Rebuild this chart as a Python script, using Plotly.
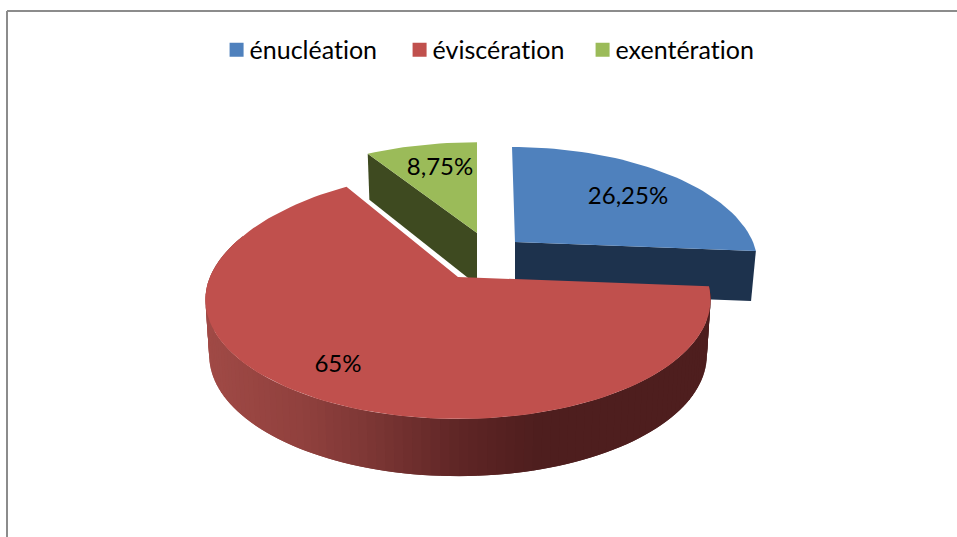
import math
import plotly.graph_objects as go

# ---- data ----
categories = ["énucléation", "éviscération", "exentération"]
values = [26.25, 65, 8.75]
value_labels = ["26,25%", "65%", "8,75%"]
top_colors = ["#4f81bd", "#c0504d", "#9bbb59"]
cut_colors = ["#1d324d", "#4f1e1e", "#3e4a20"]

# ---- page geometry ----
W, H = 957, 537
geom = {
    0: dict(cx=515, cy=242, a=238, b=113, k=0.19, d=50, dc=0.0, s=0.98, lean=-3, back=0),
    1: dict(cx=458, cy=277, a=248, b=115, k=0.19, d=55, dc=0.04, s=0.985, lean=0, back=8),
    2: dict(cx=477, cy=233, a=243, b=108, k=0.19, d=52, dc=0.135, s=0.985, lean=0, back=0),
}
label_pos = [(628, 198), (338, 366), (440, 169)]
draw_order = [2, 0, 1]
gradient_stops = [(210, (160, 74, 70)), (300, (145, 65, 62)), (370, (125, 55, 53)),
                  (460, (95, 38, 38)), (540, (78, 30, 30)), (720, (78, 30, 30))]


def project(g, deg, bottom=False):
    t = math.radians(deg)
    sn, cs = math.sin(t), math.cos(t)
    w = 1 + g["k"] * cs
    up = max(cs, 0)
    x = g["a"] * sn / w + g["lean"] * up
    y = -g["b"] * cs / w - g["back"] * up * up
    if bottom:
        return g["cx"] + x * g["s"], g["cy"] + y + g["d"] * (1 - g["dc"] * cs)
    return g["cx"] + x, g["cy"] + y


def apex(g, bottom=False):
    return g["cx"], g["cy"] + (g["d"] if bottom else 0)


def poly(fig, pts, color):
    xs = [p[0] for p in pts] + [pts[0][0]]
    ys = [p[1] for p in pts] + [pts[0][1]]
    fig.add_trace(go.Scatter(x=xs, y=ys, mode="lines", fill="toself", fillcolor=color,
                             line=dict(width=0), hoverinfo="skip", showlegend=False))


def grad(x):
    for (x0, c0), (x1, c1) in zip(gradient_stops, gradient_stops[1:]):
        if x0 <= x <= x1:
            f = (x - x0) / (x1 - x0)
            return "rgb(%d,%d,%d)" % tuple(c0[i] + (c1[i] - c0[i]) * f for i in range(3))
    return "rgb(%d,%d,%d)" % (gradient_stops[0][1] if x < gradient_stops[0][0] else gradient_stops[-1][1])


fig = go.Figure()

total = sum(values)
starts, cum = [], 0
for v in values:
    starts.append(cum / total * 360)
    cum += v

for i in draw_order:
    g = geom[i]
    a0, a1 = starts[i], starts[i] + values[i] / total * 360
    if i == 1:
        # curved rim, front part only; each strip overlaps the next to avoid seams
        n = 110
        end = 290
        for j in range(n):
            d0 = a0 + (end - a0) * j / n
            d1 = a0 + (end - a0) * (j + 2) / n
            mid = project(g, a0 + (end - a0) * (j + 0.5) / n)[0]
            poly(fig, [project(g, d0), project(g, d1), project(g, d1, True), project(g, d0, True)],
                 grad(mid))
    elif i == 0:
        poly(fig, [apex(g), project(g, a1), project(g, a1, True), apex(g, True)], cut_colors[i])
    else:
        poly(fig, [apex(g), project(g, a0), project(g, a0, True), apex(g, True)], cut_colors[i])
    steps = max(12, int((a1 - a0) / 2))
    pts = [apex(g)] + [project(g, a0 + (a1 - a0) * j / steps) for j in range(steps + 1)]
    poly(fig, pts, top_colors[i])

for i in range(3):
    fig.add_trace(go.Scatter(x=[label_pos[i][0]], y=[label_pos[i][1]], mode="text",
                             text=[value_labels[i]], textposition="middle center",
                             textfont=dict(family="Lato", size=24, color="#000000"),
                             hoverinfo="skip", showlegend=False))

for name, color in zip(categories, top_colors):
    fig.add_trace(go.Scatter(x=[None], y=[None], mode="markers", name=name,
                             marker=dict(symbol="square", size=14, color=color)))

fig.update_layout(
    width=W, height=H, autosize=False,
    margin=dict(l=0, r=0, t=0, b=0),
    paper_bgcolor="white", plot_bgcolor="white",
    xaxis=dict(range=[0, W], visible=False, fixedrange=True),
    yaxis=dict(range=[H, 0], visible=False, fixedrange=True),
    legend=dict(orientation="h", x=0.219, xanchor="left", y=0.907, yanchor="middle",
                font=dict(family="Lato", size=25, color="#000000"),
                entrywidth=138, entrywidthmode="pixels", itemwidth=30, itemsizing="trace",
                bgcolor="rgba(0,0,0,0)"),
    shapes=[dict(type="line", xref="paper", yref="paper", x0=7 / W, x1=1, y0=1 - 11 / H, y1=1 - 11 / H,
                 line=dict(color="#8c8c8c", width=2)),
            dict(type="line", xref="paper", yref="paper", x0=7 / W, x1=7 / W, y0=0, y1=1 - 11 / H,
                 line=dict(color="#8c8c8c", width=2))],
)
post = """
document.body.style.margin = '0';
var st = document.createElement('style');
st.textContent = 'text{font-variant-ligatures:none !important;font-feature-settings:"liga" 0 !important;}';
document.head.appendChild(st);
document.querySelectorAll('.legend .legendsymbols').forEach(function (s) {
  s.setAttribute('transform', 'translate(7,0)');
});
"""
fig.write_html("out.html", config={"displayModeBar": False, "responsive": False}, post_script=post)
